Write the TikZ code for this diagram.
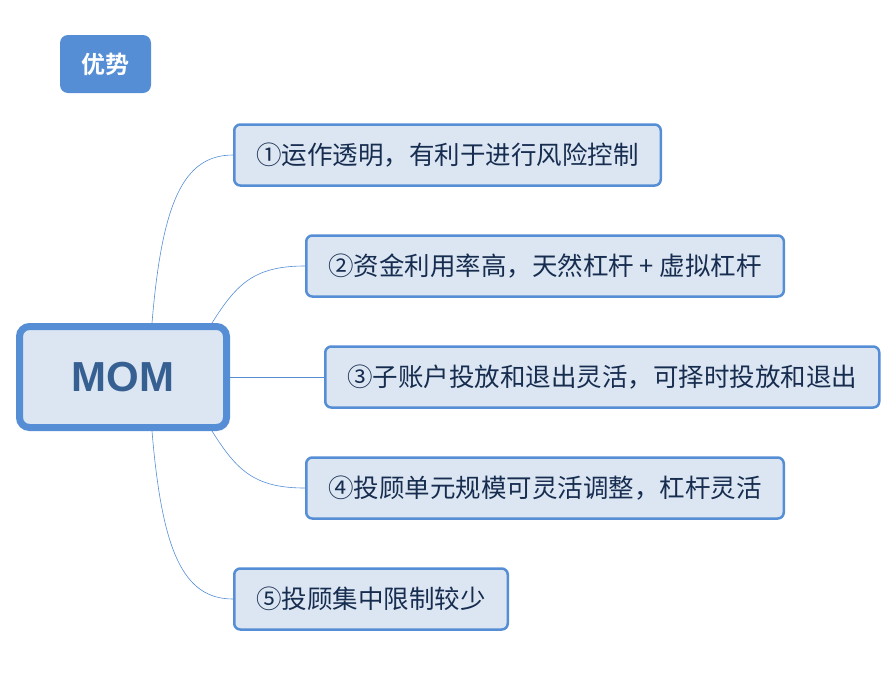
\documentclass[tikz,border=0pt]{standalone}
\usepackage{fontspec}
\usepackage{tikz}
\usetikzlibrary{positioning}
\newfontfamily\cjk{Noto Sans CJK SC}[BoldFont={Noto Sans CJK SC Bold}]
\newfontfamily\latin{Liberation Sans}
\definecolor{mapblue}{RGB}{85, 142, 213}
\definecolor{mapfill}{RGB}{220, 230, 242}
\definecolor{maptext}{RGB}{23, 45, 80}
\definecolor{momtext}{RGB}{55, 96, 146}

\tikzset{
  topic/.style={draw=mapblue, fill=mapfill, line width=2.5pt, rounded corners=6pt,
    minimum height=61pt, inner xsep=22pt, anchor=west, text=maptext,
    font=\cjk\fontsize{25.5}{29}\selectfont},
  branch/.style={draw=mapblue, line width=0.6pt}
}

\begin{document}
\begin{tikzpicture}[x=1pt, y=-1pt]
  \useasboundingbox (0, 0) rectangle (894, 678);

  % Title tag
  \node[fill=mapblue, rounded corners=8pt, minimum width=91pt, minimum height=58pt,
    text=white, font=\cjk\bfseries\fontsize{24}{28}\selectfont] (tag) at (105.5, 64) {优势};

  % Central topic
  \node[draw=mapblue, fill=mapfill, line width=7pt, rounded corners=10pt,
    minimum width=207pt, minimum height=101pt, text=momtext,
    font=\latin\bfseries\fontsize{42}{48}\selectfont] (mom) at (123, 377) {MOM};

  % Subtopics
  \node[topic] (t1) at (233, 155) {①运作透明，有利于进行风险控制};
  \node[topic] (t2) at (305, 266) {②资金利用率高，天然杠杆 + 虚拟杠杆};
  \node[topic] (t3) at (324, 377) {③子账户投放和退出灵活，可择时投放和退出};
  \node[topic] (t4) at (305, 488) {④投顾单元规模可灵活调整，杠杆灵活};
  \node[topic] (t5) at (233, 599) {⑤投顾集中限制较少};

  % Branches
  \coordinate (m1) at ([xshift=-78pt]mom.north east);
  \coordinate (m2) at ([xshift=-18pt]mom.north east);
  \coordinate (m4) at ([xshift=-18pt]mom.south east);
  \coordinate (m5) at ([xshift=-78pt]mom.south east);
  \draw[branch] (m1) .. controls +(10, -120) and +(-50, 0) .. (t1.west);
  \draw[branch] (m2) .. controls +(25, -40) and +(-50, 0) .. (t2.west);
  \draw[branch] (mom.east) -- (t3.west);
  \draw[branch] (m4) .. controls +(25, 40) and +(-50, 0) .. (t4.west);
  \draw[branch] (m5) .. controls +(10, 120) and +(-50, 0) .. (t5.west);
\end{tikzpicture}
\end{document}
